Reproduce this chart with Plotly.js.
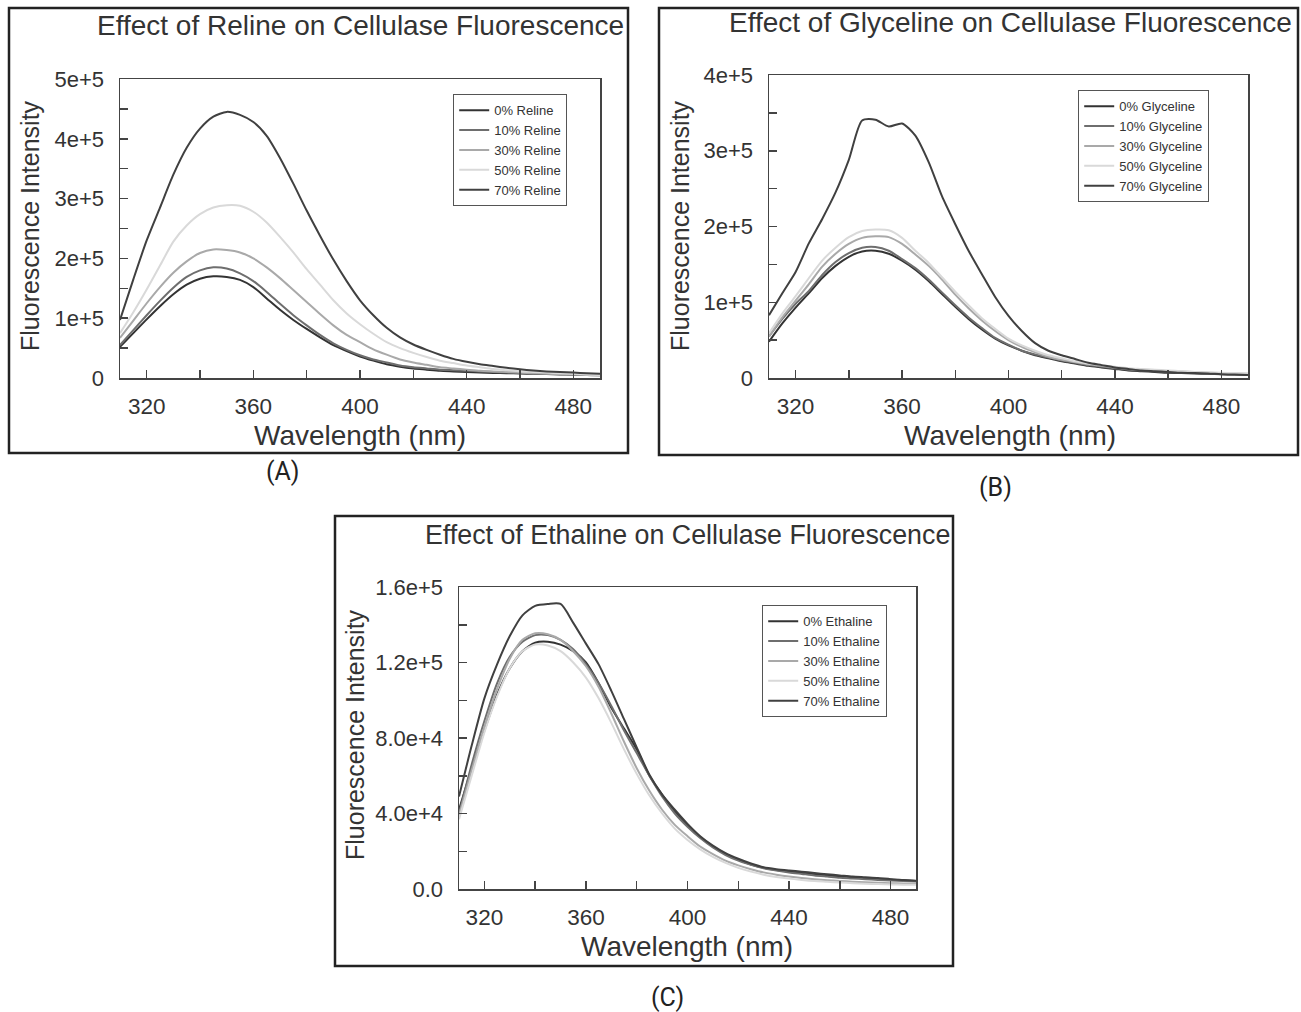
<!DOCTYPE html>
<html><head><meta charset="utf-8">
<script src="https://cdn.plot.ly/plotly-3.0.1.min.js"></script>
<style>html,body{margin:0;padding:0;background:#fff}#chart{width:1301px;height:1012px}</style>
</head><body><div id="chart"></div>
<script>
// ---------- DATA ----------
const wavelength = [310,315,320,325,330,335,340,345,350,355,360,365,370,375,380,385,390,395,400,405,410,415,420,425,430,435,440,445,450,455,460,465,470,475,480,485,490];
const concentrations = ['0%','10%','30%','50%','70%'];

// Panel A: Reline (fluorescence, units of 1e5)
const reline0  = [0.52,0.75,0.98,1.20,1.40,1.56,1.66,1.70,1.69,1.64,1.52,1.33,1.14,0.97,0.82,0.68,0.55,0.45,0.36,0.29,0.23,0.19,0.16,0.14,0.12,0.11,0.10,0.09,0.085,0.08,0.075,0.07,0.065,0.06,0.055,0.05,0.045];
const reline10 = [0.55,0.80,1.05,1.29,1.51,1.69,1.80,1.85,1.83,1.75,1.62,1.44,1.24,1.05,0.88,0.72,0.58,0.47,0.38,0.31,0.26,0.21,0.18,0.16,0.14,0.13,0.12,0.11,0.10,0.09,0.085,0.08,0.07,0.065,0.06,0.055,0.05];
const reline30 = [0.67,0.96,1.25,1.52,1.76,1.95,2.09,2.15,2.14,2.10,2.00,1.85,1.67,1.47,1.27,1.07,0.88,0.72,0.60,0.48,0.39,0.31,0.26,0.22,0.18,0.16,0.14,0.12,0.11,0.10,0.09,0.08,0.07,0.065,0.06,0.05,0.045];
const reline50 = [0.75,1.10,1.48,1.88,2.28,2.55,2.74,2.85,2.89,2.88,2.78,2.60,2.36,2.10,1.82,1.56,1.30,1.08,0.90,0.74,0.60,0.50,0.42,0.35,0.29,0.25,0.21,0.18,0.15,0.13,0.11,0.10,0.09,0.08,0.07,0.06,0.05];
const reline70 = [0.97,1.65,2.30,2.85,3.40,3.85,4.17,4.37,4.45,4.40,4.28,4.05,3.68,3.25,2.80,2.38,1.98,1.62,1.30,1.05,0.84,0.68,0.56,0.47,0.39,0.32,0.27,0.23,0.20,0.17,0.145,0.125,0.11,0.10,0.09,0.08,0.07];

// Panel B: Glyceline (units of 1e5)
const glyceline0  = [0.48,0.72,0.93,1.12,1.32,1.48,1.60,1.67,1.68,1.64,1.55,1.43,1.28,1.11,0.94,0.78,0.64,0.52,0.43,0.36,0.30,0.26,0.22,0.19,0.16,0.14,0.12,0.10,0.09,0.08,0.07,0.065,0.06,0.055,0.05,0.045,0.04];
const glyceline10 = [0.55,0.78,0.98,1.15,1.36,1.53,1.65,1.72,1.73,1.68,1.57,1.45,1.30,1.13,0.96,0.80,0.66,0.53,0.44,0.36,0.31,0.27,0.23,0.20,0.17,0.15,0.13,0.11,0.10,0.09,0.08,0.07,0.065,0.06,0.055,0.05,0.045];
const glyceline30 = [0.55,0.80,1.02,1.24,1.47,1.64,1.77,1.85,1.87,1.86,1.77,1.63,1.48,1.30,1.10,0.92,0.76,0.62,0.50,0.41,0.34,0.28,0.24,0.21,0.18,0.16,0.14,0.12,0.11,0.10,0.09,0.085,0.08,0.07,0.065,0.06,0.055];
const glyceline50 = [0.59,0.85,1.08,1.32,1.55,1.72,1.86,1.94,1.96,1.95,1.85,1.68,1.52,1.33,1.14,0.96,0.79,0.65,0.52,0.43,0.36,0.30,0.26,0.22,0.19,0.17,0.15,0.13,0.12,0.11,0.10,0.09,0.08,0.075,0.07,0.065,0.06];
const glyceline70 = [0.83,1.12,1.40,1.78,2.10,2.45,2.88,3.40,3.41,3.32,3.36,3.20,2.85,2.40,2.03,1.68,1.37,1.07,0.82,0.62,0.46,0.36,0.30,0.25,0.20,0.17,0.14,0.12,0.10,0.09,0.08,0.07,0.065,0.06,0.05,0.045,0.04];

// Panel C: Ethaline (units of 1e4)
const ethaline0  = [4.2,6.4,8.4,10.3,11.7,12.6,13.05,13.1,12.95,12.6,12.0,10.9,9.6,8.5,7.4,6.0,5.0,4.1,3.35,2.75,2.25,1.85,1.55,1.3,1.12,1.0,0.92,0.85,0.78,0.72,0.67,0.62,0.57,0.53,0.5,0.46,0.42];
const ethaline10 = [4.0,6.6,8.9,10.9,12.3,13.1,13.45,13.45,13.2,12.7,11.9,10.9,9.7,8.4,7.2,6.0,4.9,4.0,3.3,2.7,2.2,1.8,1.5,1.28,1.1,0.98,0.88,0.8,0.72,0.66,0.6,0.56,0.52,0.48,0.45,0.42,0.4];
const ethaline30 = [3.9,6.3,8.6,10.6,12.2,13.2,13.55,13.5,13.2,12.6,11.8,10.7,9.3,7.8,6.4,5.2,4.2,3.4,2.8,2.25,1.85,1.5,1.25,1.05,0.88,0.76,0.66,0.58,0.52,0.47,0.43,0.39,0.36,0.33,0.31,0.29,0.28];
const ethaline50 = [3.7,6.0,8.3,10.2,11.7,12.6,12.95,12.9,12.6,12.0,11.2,10.1,8.8,7.4,6.1,4.95,4.0,3.2,2.6,2.1,1.7,1.38,1.12,0.92,0.76,0.64,0.55,0.48,0.42,0.38,0.34,0.31,0.28,0.26,0.24,0.23,0.22];
const ethaline70 = [4.9,7.6,10.1,11.9,13.4,14.5,15.0,15.1,15.1,14.1,13.0,11.9,10.5,9.0,7.5,6.05,5.0,4.2,3.45,2.8,2.3,1.9,1.6,1.35,1.15,1.05,0.98,0.92,0.85,0.78,0.72,0.66,0.62,0.58,0.52,0.48,0.44];

// Tick labels
const xTickVals = [320,360,400,440,480];
const xTickText = ['320','360','400','440','480'];
const yTickValsA = [0,100000,200000,300000,400000,500000];
const yTickTextA = ['0','1e+5','2e+5','3e+5','4e+5','5e+5'];
const yTickValsB = [0,100000,200000,300000,400000];
const yTickTextB = ['0','1e+5','2e+5','3e+5','4e+5'];
const yTickValsC = [0,40000,80000,120000,160000];
const yTickTextC = ['0.0','4.0e+4','8.0e+4','1.2e+5','1.6e+5'];

// ---------- STYLE / LAYOUT ----------
const W = 1301, H = 1012;
const px = x => x / W, py = y => 1 - y / H;
const FONT = 'Liberation Sans, Arial, sans-serif';
const TXT = '#333333';
const AX = '#444444';
const lineColors = ['#333333','#6e6e6e','#a9a9a9','#d9d9d9','#404040'];

function makeTraces(seriesList, scale, solvent, xa, ya, legendId) {
  return seriesList.map((vals, i) => ({
    type: 'scatter', mode: 'lines',
    x: wavelength, y: vals.map(v => v * scale),
    name: concentrations[i] + ' ' + solvent,
    xaxis: xa, yaxis: ya, legend: legendId,
    line: {color: lineColors[i], width: 2, shape: 'spline', smoothing: 0.7}
  }));
}

const traces = [].concat(
  makeTraces([reline0, reline10, reline30, reline50, reline70], 1e5, 'Reline', 'x', 'y', 'legend'),
  makeTraces([glyceline0, glyceline10, glyceline30, glyceline50, glyceline70], 1e5, 'Glyceline', 'x2', 'y2', 'legend2'),
  makeTraces([ethaline0, ethaline10, ethaline30, ethaline50, ethaline70], 1e4, 'Ethaline', 'x3', 'y3', 'legend3')
);

function xAxis(left, right, anchor) {
  return {
    domain: [px(left), px(right)], anchor: anchor, range: [310, 490],
    tickmode: 'array', tickvals: xTickVals, ticktext: xTickText,
    ticks: 'inside', ticklen: 8, tickwidth: 1.5, tickcolor: AX,
    minor: {ticks: 'inside', ticklen: 8, tickwidth: 1.5, tickcolor: AX, tickmode: 'linear', tick0: 300, dtick: 20},
    showline: true, linecolor: AX, linewidth: 1.5, mirror: true,
    showgrid: false, zeroline: false, automargin: false,
    ticklabelstandoff: 7,
    tickfont: {family: FONT, size: 22.5, color: TXT}
  };
}
function yAxis(top, bottom, anchor, max, vals, text, minorStep) {
  return {
    domain: [py(bottom), py(top)], anchor: anchor, range: [0, max],
    tickmode: 'array', tickvals: vals, ticktext: text,
    ticks: 'inside', ticklen: 8, tickwidth: 1.5, tickcolor: AX,
    minor: {ticks: 'inside', ticklen: 8, tickwidth: 1.5, tickcolor: AX, tickmode: 'linear', tick0: 0, dtick: minorStep},
    showline: true, linecolor: AX, linewidth: 1.5, mirror: true,
    showgrid: false, zeroline: false, automargin: false,
    ticklabelstandoff: 10,
    tickfont: {family: FONT, size: 22, color: TXT}
  };
}
function legendAt(x, y) {
  return {
    x: px(x), y: py(y), xanchor: 'left', yanchor: 'top',
    bgcolor: '#ffffff', bordercolor: '#555555', borderwidth: 1.2,
    font: {family: FONT, size: 13, color: TXT},
    itemwidth: 30, tracegroupgap: 0
  };
}
function ann(text, x, y, size, opts) {
  return Object.assign({
    text: text, x: px(x), y: py(y), xref: 'paper', yref: 'paper',
    xanchor: 'center', yanchor: 'middle', showarrow: false,
    font: {family: FONT, size: size, color: TXT}
  }, opts || {});
}
function box(x0, y0, x1, y1) {
  return {type: 'rect', xref: 'paper', yref: 'paper', x0: px(x0), x1: px(x1), y0: py(y1), y1: py(y0),
          line: {color: '#222222', width: 2.5}, fillcolor: 'rgba(0,0,0,0)', layer: 'above'};
}
const labelFont = {family: 'Roboto, sans-serif', size: 25, color: '#222'};

const layout = {
  width: W, height: H, margin: {l: 0, r: 0, t: 0, b: 0},
  paper_bgcolor: '#ffffff', plot_bgcolor: '#ffffff',
  showlegend: true,
  xaxis: xAxis(120, 600, 'y'),
  yaxis: yAxis(79, 378, 'x', 500000, yTickValsA, yTickTextA, 50000),
  xaxis2: xAxis(769, 1248, 'y2'),
  yaxis2: yAxis(75, 378, 'x2', 400000, yTickValsB, yTickTextB, 50000),
  xaxis3: xAxis(459, 916, 'y3'),
  yaxis3: yAxis(587, 889, 'x3', 160000, yTickValsC, yTickTextC, 20000),
  legend: legendAt(453, 94),
  legend2: legendAt(1078, 90),
  legend3: legendAt(762, 605),
  shapes: [box(9, 8, 628, 453), box(659, 8, 1298, 455), box(335, 516, 953, 966)],
  annotations: [
    ann('Effect of Reline on Cellulase Fluorescence', 360, 26, 28),
    ann('Effect of Glyceline on Cellulase Fluorescence', 1010, 23, 28),
    ann('Effect of Ethaline on Cellulase Fluorescence', 688, 535, 26.8),
    ann('Wavelength (nm)', 360, 435, 28),
    ann('Wavelength (nm)', 1010, 436, 28),
    ann('Wavelength (nm)', 687, 946, 28),
    ann('Fluorescence Intensity', 30, 226, 25, {textangle: -90}),
    ann('Fluorescence Intensity', 680, 226, 25, {textangle: -90}),
    ann('Fluorescence Intensity', 355, 735, 25, {textangle: -90}),
    ann('(A)', 283, 471, 25, {font: labelFont}),
    ann('(B)', 995, 487, 25, {font: labelFont}),
    ann('(C)', 667, 997, 25, {font: labelFont})
  ]
};

Plotly.newPlot('chart', traces, layout, {displayModeBar: false, staticPlot: true});
</script>
</body></html>
